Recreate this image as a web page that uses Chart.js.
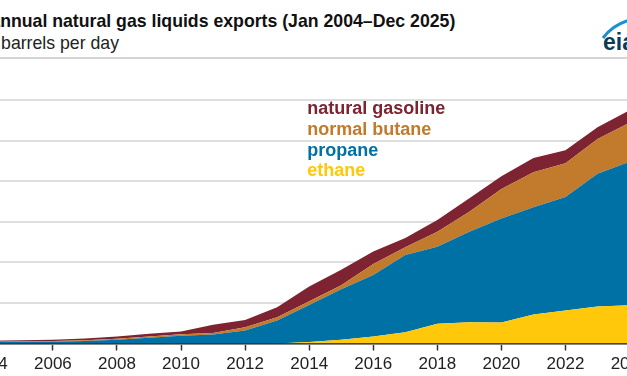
<!DOCTYPE html>
<html>
<head>
<meta charset="utf-8">
<script src="https://cdn.jsdelivr.net/npm/chart.js@4.4.1/dist/chart.umd.min.js"></script>
<style>
html, body { margin: 0; padding: 0; background: #fff; }
body { width: 627px; height: 376px; position: relative; overflow: hidden; font-family: "Liberation Sans", Arial, sans-serif; }
#title { position: absolute; left: -49px; top: 10px; font-size: 17.7px; line-height: 22px; font-weight: bold; color: #111; white-space: nowrap; }
#subtitle { position: absolute; left: -54px; top: 32px; font-size: 17.7px; line-height: 22px; color: #222; white-space: nowrap; }
#rule { position: absolute; left: 0; top: 57px; width: 627px; height: 2px; background: #d4d4d4; }
#logo { position: absolute; left: 600px; top: 14px; width: 40px; height: 40px; }
#logo span { position: absolute; left: 3px; top: 16px; font-size: 23px; line-height: 24px; font-weight: bold; color: #0d3a57; }
#wrap { position: absolute; left: -61px; top: 0; width: 740px; height: 376px; }
</style>
</head>
<body>
<div id="title">U.S. annual natural gas liquids exports (Jan 2004–Dec 2025)</div>
<div id="subtitle">million barrels per day</div>
<div id="logo">
  <svg width="40" height="40" style="position:absolute;left:0;top:0">
    <path d="M3 24 Q14 9 34 5" stroke="#1b8fd2" stroke-width="3" fill="none"/>
  </svg>
  <span>eia</span>
</div>
<div id="rule"></div>
<div id="wrap"><canvas id="chart" width="740" height="376"></canvas></div>

<script>
// million barrels per day, annual averages
const years    = [2004, 2005, 2006, 2007, 2008, 2009, 2010, 2011, 2012, 2013, 2014, 2015, 2016, 2017, 2018, 2019, 2020, 2021, 2022, 2023, 2024, 2025];
const ethane   = [0, 0, 0, 0, 0, 0, 0, 0, 0, 0, 0.020, 0.045, 0.085, 0.140, 0.242, 0.263, 0.259, 0.357, 0.406, 0.456, 0.470, 0.500];
const propane  = [0.018, 0.020, 0.022, 0.030, 0.045, 0.072, 0.095, 0.112, 0.160, 0.283, 0.455, 0.622, 0.759, 0.950, 0.950, 1.114, 1.281, 1.322, 1.400, 1.634, 1.770, 1.850];
const butane   = [0.005, 0.006, 0.008, 0.010, 0.012, 0.015, 0.020, 0.018, 0.040, 0.041, 0.046, 0.051, 0.135, 0.095, 0.185, 0.246, 0.365, 0.431, 0.414, 0.431, 0.480, 0.490];
const gasoline = [0.012, 0.014, 0.015, 0.022, 0.029, 0.032, 0.033, 0.100, 0.090, 0.123, 0.180, 0.190, 0.155, 0.115, 0.144, 0.165, 0.155, 0.174, 0.160, 0.143, 0.155, 0.160];
const yTicks   = [0, 0.5, 1.0, 1.5, 2.0, 2.5, 3.0];

const colors = {
    ethane: '#ffc80a',
    propane: '#0071a4',
    butane: '#c27a2c',
    gasoline: '#7d2331'
};

function points(values) {
    return values.map((v, i) => ({ x: years[i], y: v }));
}

function series(label, values, color, fill) {
    return {
        label: label,
        data: points(values),
        backgroundColor: color,
        borderColor: color,
        borderWidth: 0,
        pointRadius: 0,
        tension: 0,
        fill: fill
    };
}

// labels written inside the plot, stacked top to bottom
const areaLabels = {
    id: 'areaLabels',
    afterDatasetsDraw(chart) {
        const ctx = chart.ctx;
        const left = chart.chartArea.left + 318.5;
        const top = chart.chartArea.top + 9.5;
        const items = [
            ['natural gasoline', colors.gasoline],
            ['normal butane', colors.butane],
            ['propane', colors.propane],
            ['ethane', colors.ethane]
        ];
        ctx.save();
        ctx.font = 'bold 18px "Liberation Sans", Arial, sans-serif';
        ctx.textBaseline = 'middle';
        ctx.textAlign = 'left';
        items.forEach((it, i) => {
            ctx.fillStyle = it[1];
            ctx.fillText(it[0], left, top + i * 20.6);
        });
        ctx.restore();
    }
};

Chart.defaults.font.family = '"Liberation Sans", Arial, sans-serif';

new Chart(document.getElementById('chart').getContext('2d'), {
    type: 'line',
    data: {
        datasets: [
            series('ethane', ethane, colors.ethane, 'origin'),
            series('propane', propane, colors.propane, '-1'),
            series('normal butane', butane, colors.butane, '-1'),
            series('natural gasoline', gasoline, colors.gasoline, '-1')
        ]
    },
    options: {
        responsive: false,
        animation: false,
        devicePixelRatio: 1,
        layout: { padding: { top: 100, right: 17.4, left: 0, bottom: 0 } },
        plugins: {
            legend: { display: false },
            tooltip: { enabled: false }
        },
        scales: {
            x: {
                type: 'linear',
                min: years[0],
                max: years[years.length - 1],
                afterFit: s => { s.height = 32.5; },
                ticks: {
                    stepSize: 2,
                    includeBounds: false,
                    autoSkip: false,
                    maxRotation: 0,
                    padding: 4,
                    color: '#222',
                    font: { size: 17 },
                    callback: v => String(v)
                },
                grid: { drawOnChartArea: false, drawTicks: true, tickLength: 7, tickColor: '#333', tickWidth: 1.5 },
                border: { color: '#333', width: 1.5 }
            },
            y: {
                stacked: true,
                min: yTicks[0],
                max: yTicks[yTicks.length - 1],
                afterFit: s => { s.width = 49.8; },
                afterBuildTicks: s => { s.ticks = yTicks.map(v => ({ value: v })); },
                ticks: { color: '#222', font: { size: 17 }, padding: 8, callback: v => v.toFixed(1) },
                grid: { color: '#dedede', lineWidth: 2, drawTicks: false },
                border: { display: false }
            }
        }
    },
    plugins: [areaLabels]
});
</script>
</body>
</html>
